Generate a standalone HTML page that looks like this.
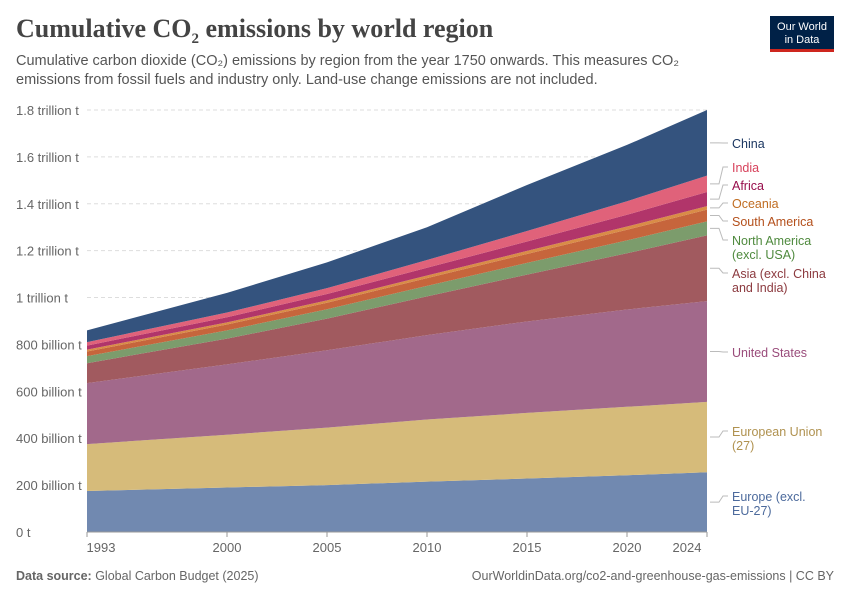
<!DOCTYPE html>
<html><head><meta charset="utf-8"><style>
body{margin:0;background:#fff;font-family:"Liberation Sans",sans-serif;}
#wrap{position:relative;width:850px;height:600px;overflow:hidden;}
h1{position:absolute;left:16px;top:14px;margin:0;font-family:"Liberation Serif",serif;font-weight:bold;font-size:26px;color:#444;}
.sub{position:absolute;left:16px;top:52px;font-size:14.5px;color:#555;line-height:19px;width:700px;}
.logo{position:absolute;left:770px;top:16px;width:64px;height:36px;background:#002147;color:#fff;font-size:11px;text-align:center;line-height:13px;padding-top:5px;box-sizing:border-box;border-bottom:3px solid #ce261e;}
.foot{position:absolute;top:569px;font-size:12.5px;color:#666;}
</style></head><body><div id="wrap">
<h1>Cumulative CO<sub style="font-size:15px">2</sub> emissions by world region</h1>
<div class="sub">Cumulative carbon dioxide (CO₂) emissions by region from the year 1750 onwards. This measures CO₂ emissions from fossil fuels and industry only. Land-use change emissions are not included.</div>
<div class="logo">Our World<br>in Data</div>
<svg id="svg" width="850" height="600" style="position:absolute;left:0;top:0"></svg>
<div class="foot" style="left:16px"><b>Data source:</b> Global Carbon Budget (2025)</div>
<div class="foot" style="right:16px">OurWorldinData.org/co2-and-greenhouse-gas-emissions | CC BY</div>
</div>
<script>
const years=[1993,2000,2005,2010,2015,2020,2024];
const europeExcl=[175,190,200,215,228,242,255];
const eu27=[200,225,245,265,280,292,300];
const usa=[260,300,330,360,390,415,430];
const asiaExcl=[85,110,135,165,200,240,280];
const northAmExcl=[30,35,40,45,50,55,60];
const southAm=[20,25,28,33,38,45,50];
const oceania=[8,9,10,11,13,14,15];
const africa=[17,22,27,33,40,50,60];
const india=[15,20,25,33,45,58,70];
const china=[50,84,110,140,196,240,280];
const seriesNames=["Europe (excl. EU-27)","European Union (27)","United States","Asia (excl. China and India)","North America (excl. USA)","South America","Oceania","Africa","India","China"];
const yTicks=[0,200,400,600,800,1000,1200,1400,1600,1800];
const yTickLabels=["0 t","200 billion t","400 billion t","600 billion t","800 billion t","1 trillion t","1.2 trillion t","1.4 trillion t","1.6 trillion t","1.8 trillion t"];
const xTicks=[1993,2000,2005,2010,2015,2020,2024];
const series=[europeExcl,eu27,usa,asiaExcl,northAmExcl,southAm,oceania,africa,india,china];
const fills=["#7189b0","#d6bb7a","#a2698b","#a15a5f","#7c9c6c","#c6653c","#d98c47","#b1356a","#e0627a","#34537e"];
const textCols=["#4c6a9c","#b09250","#9a4c7b","#8c3a3f","#4f8a3e","#b4501c","#c06d22","#970d4b","#d7415b","#18345f"];
const labels=[["Europe (excl.","EU-27)"],["European Union","(27)"],["United States"],["Asia (excl. China","and India)"],["North America","(excl. USA)"],["South America"],["Oceania"],["Africa"],["India"],["China"]];
const labelY=[501,436,357,278,245,226,208,190,172,148];
const X0=87,X1=707,Y0=532,Y1=110;
const xs=y=>X0+(y-1993)/(2024-1993)*(X1-X0);
const ys=v=>Y0-v/1800*(Y0-Y1);
const svg=document.getElementById('svg');const NS="http://www.w3.org/2000/svg";
function mk(t,a){const e=document.createElementNS(NS,t);for(const k in a)e.setAttribute(k,a[k]);svg.appendChild(e);return e;}
yTicks.forEach((v,i)=>{
 if(v>0){const l=mk('line',{x1:X0,x2:X1,y1:ys(v),y2:ys(v),stroke:'#ddd','stroke-dasharray':'4,3'});
 
 }
 const t=mk('text',{x:16,y:ys(v)+5,'font-size':13,fill:'#666'});t.textContent=yTickLabels[i];
 
 
});
let base=years.map(()=>0);
series.forEach((s,i)=>{
 const top=base.map((b,j)=>b+s[j]);
 let d='M'+years.map((y,j)=>xs(y)+','+ys(top[j])).join('L');
 for(let j=years.length-1;j>=0;j--)d+='L'+xs(years[j])+','+ys(base[j]);
 const p=mk('path',{d:d+'Z',fill:fills[i]});
 
 
 const mid=(top[top.length-1]+base[base.length-1])/2;
 const ly=labelY[i];
 const ln=mk('polyline',{points:`${X1+3},${ys(mid)} ${X1+12},${ys(mid)} ${X1+16},${ly-5} ${X1+21},${ly-5}`,fill:'none',stroke:'#bbb','stroke-width':1});
 
 
 labels[i].forEach((txt,k)=>{const t=mk('text',{x:732,y:ly+k*14,'font-size':12.5,fill:textCols[i]});t.textContent=txt;
  
  });
 base=top;
});
const ax=mk('line',{x1:X0,x2:X1,y1:Y0,y2:Y0,stroke:'#999'});


xTicks.forEach(y=>{
 const tk=mk('line',{x1:xs(y),x2:xs(y),y1:Y0,y2:Y0+5,stroke:'#999'});
 
 
 const tx=y===1993?xs(y)+14:(y===2024?xs(y)-20:xs(y));
 const t=mk('text',{x:tx,y:552,'font-size':13,fill:'#666','text-anchor':'middle'});t.textContent=y;
 
 
});
</script></body></html>
